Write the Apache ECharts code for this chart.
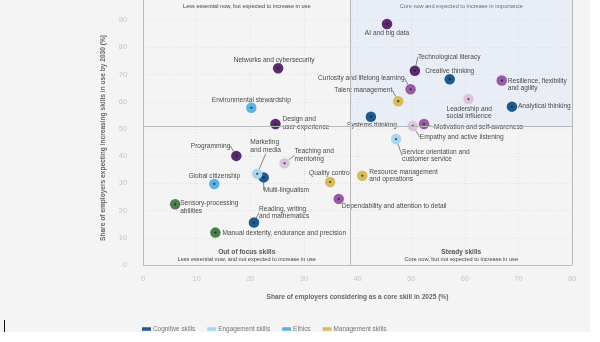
<!DOCTYPE html>
<html>
<head>
<meta charset="utf-8">
<script src="https://cdn.jsdelivr.net/npm/echarts@6/dist/echarts.min.js"></script>
<style>
  html, body { margin: 0; padding: 0; background: #ffffff; }
  #chart { width: 600px; height: 342px; }
</style>
</head>
<body>
<div id="chart"></div>
<script>
// Skills: share of employers rating each as core in 2025 vs. share expecting its use to grow by 2030
const skills = [
  'Creative thinking', 'Analytical thinking', 'Systems thinking', 'Multi-lingualism', 'Reading, writing and mathematics',
  'Service orientation and customer service', 'Marketing and media',
  'Environmental stewardship', 'Global citizenship',
  'Talent management', 'Resource management and operations', 'Quality control',
  'Sensory-processing abilities', 'Manual dexterity, endurance and precision',
  'Resilience, flexibility and agility', 'Curiosity and lifelong learning', 'Motivation and self-awareness', 'Dependability and attention to detail',
  'AI and big data', 'Networks and cybersecurity', 'Technological literacy', 'Programming', 'Design and user experience',
  'Leadership and social influence', 'Empathy and active listening', 'Teaching and mentoring'
];
const coreShare2025 = [
  57.2, 68.8, 42.5, 22.5, 20.7,
  47.2, 21.3,
  20.2, 13.3,
  47.6, 40.9, 34.9,
  6.0, 13.5,
  66.9, 49.9, 52.4, 36.5,
  45.5, 25.2, 50.7, 17.4, 24.7,
  60.7, 50.3, 26.4
];
const increasingUse2030 = [
  68.3, 58.2, 54.5, 32.2, 15.6,
  46.3, 33.5,
  57.8, 29.8,
  60.2, 32.8, 30.5,
  22.3, 11.9,
  67.8, 64.6, 51.8, 24.3,
  88.6, 72.3, 71.4, 40.1, 51.8,
  61.0, 51.1, 37.4
];
const skillGroup = [
  'Cognitive skills', 'Cognitive skills', 'Cognitive skills', 'Cognitive skills', 'Cognitive skills',
  'Engagement skills', 'Engagement skills',
  'Ethics', 'Ethics',
  'Management skills', 'Management skills', 'Management skills',
  'Physical abilities', 'Physical abilities',
  'Self-efficacy', 'Self-efficacy', 'Self-efficacy', 'Self-efficacy',
  'Technology skills', 'Technology skills', 'Technology skills', 'Technology skills', 'Technology skills',
  'Working with others', 'Working with others', 'Working with others'
];
const groups = ['Cognitive skills', 'Engagement skills', 'Ethics', 'Management skills',
  'Physical abilities', 'Self-efficacy', 'Technology skills', 'Working with others'];
const legendGroups = ['Cognitive skills', 'Engagement skills', 'Ethics', 'Management skills'];

// Quadrant split (average values on each axis)
const xSplit = 38.7;
const ySplit = 51.1;

// Axis ranges and ticks
const xTicks = [0, 10, 20, 30, 40, 50, 60, 70, 80];
const yTicks = [0, 10, 20, 30, 40, 50, 60, 70, 80, 90];
const yTop = 97.4;

const quadrantNotes = [
  { title: '', text: 'Less essential now, but expected to increase in use', side: 'left', top: true },
  { title: '', text: 'Core now and expected to increase in importance', side: 'right', top: true },
  { title: 'Out of focus skills', text: 'Less essential now, and not expected to increase in use', side: 'left', top: false },
  { title: 'Steady skills', text: 'Core now, but not expected to increase in use', side: 'right', top: false }
];

// ---- styling ----
const groupColors = {
  'Cognitive skills': '#1e5a8e',
  'Engagement skills': '#a9d6ef',
  'Ethics': '#5eb2e2',
  'Management skills': '#d6bb5c',
  'Physical abilities': '#4c7f4c',
  'Self-efficacy': '#9a5aa6',
  'Technology skills': '#5a2b6c',
  'Working with others': '#dcc4de'
};
const FONT = '"Liberation Sans", Arial, Helvetica, sans-serif';

// label placement: [text, dx, dy, align, leader line]
const labelPlacement = {
  'Networks and cybersecurity': ['Networks and cybersecurity', -4, -8, 'center', false],
  'Environmental stewardship': ['Environmental stewardship', 0, -8, 'center', false],
  'Design and user experience': ['Design and\nuser experience', 7, -1, 'left', false],
  'AI and big data': ['AI and big data', 0, 9, 'center', false],
  'Technological literacy': ['Technological literacy', 3, -14, 'left', true],
  'Creative thinking': ['Creative thinking', 0, -8, 'center', false],
  'Curiosity and lifelong learning': ['Curiosity and lifelong learning', -6, -11, 'right', true],
  'Talent management': ['Talent management', -6, -11, 'right', true],
  'Resilience, flexibility and agility': ['Resilience, flexibility\nand agility', 6, 4, 'left', false],
  'Leadership and social influence': ['Leadership and\nsocial influence', -22, 13.5, 'left', false],
  'Analytical thinking': ['Analytical thinking', 6, 0, 'left', false],
  'Systems thinking': ['Systems thinking', 1, 8.5, 'center', false],
  'Motivation and self-awareness': ['Motivation and self-awareness', 10, 3, 'left', true],
  'Empathy and active listening': ['Empathy and active listening', 7, 11, 'left', true],
  'Service orientation and customer service': ['Service orientation and\ncustomer service', 6, 16.5, 'left', true],
  'Resource management and operations': ['Resource management\nand operations', 7, 0, 'left', false],
  'Dependability and attention to detail': ['Dependability and attention to detail', 3, 7, 'left', false],
  'Programming': ['Programming', -6, -10, 'right', true],
  'Marketing and media': ['Marketing\nand media', -7, -27.5, 'left', true],
  'Teaching and mentoring': ['Teaching and\nmentoring', 10, -8, 'left', true],
  'Global citizenship': ['Global citizenship', 0, -7.5, 'center', false],
  'Quality control': ['Quality control', 0, -9, 'center', false],
  'Multi-lingualism': ['Multi-lingualism', 0, 13, 'left', true],
  'Sensory-processing abilities': ['Sensory-processing\nabilities', 5, 3, 'left', false],
  'Reading, writing and mathematics': ['Reading, writing\nand mathematics', 5, -10, 'left', true],
  'Manual dexterity, endurance and precision': ['Manual dexterity, endurance and precision', 7, 1, 'left', false]
};

const chart = echarts.init(document.getElementById('chart'), null, { renderer: 'canvas' });

const series = groups.map(function (g) {
  const idx = [];
  skillGroup.forEach(function (sg, i) { if (sg === g) idx.push(i); });
  return {
    type: 'scatter',
    name: g,
    z: 3,
    symbolSize: 10.5,
    itemStyle: { color: groupColors[g], opacity: 1 },
    data: idx.map(function (i) {
      const p = labelPlacement[skills[i]];
      return {
        name: skills[i],
        value: [coreShare2025[i], increasingUse2030[i]],
        labelLine: { show: p[4], lineStyle: { color: '#555', width: 0.7 } }
      };
    }),
    label: {
      show: true,
      formatter: function (prm) { return labelPlacement[prm.name][0]; },
      fontFamily: FONT,
      fontSize: 6.6,
      lineHeight: 7.5,
      color: '#4a4a4a'
    },
    labelLayout: function (prm) {
      const p = labelPlacement[skills[idx[prm.dataIndex]]];
      const cx = prm.rect.x + prm.rect.width / 2;
      const cy = prm.rect.y + prm.rect.height / 2;
      return { x: cx + p[1], y: cy + p[2], align: p[3], verticalAlign: 'middle' };
    }
  };
});

// dark centre marks on every point
series.push({
  type: 'scatter',
  name: 'centres',
  silent: true,
  z: 4,
  symbolSize: 2.2,
  itemStyle: { color: '#1d1d1d' },
  data: skills.map(function (s, i) { return [coreShare2025[i], increasingUse2030[i]]; })
});

// quadrant shading, split lines and right frame edge
series.push({
  type: 'scatter',
  name: 'quadrants',
  silent: true,
  data: [],
  markArea: {
    silent: true,
    itemStyle: { color: 'rgba(198,218,250,0.27)' },
    data: [[{ xAxis: xSplit, yAxis: ySplit }, { xAxis: xTicks[xTicks.length - 1], yAxis: yTop }]]
  },
  markLine: {
    silent: true,
    symbol: 'none',
    label: { show: false },
    lineStyle: { color: '#b8b8b8', width: 1, type: 'solid' },
    data: [{ xAxis: xSplit }, { yAxis: ySplit }, { xAxis: xTicks[xTicks.length - 1] }]
  }
});

chart.setOption({
  animation: false,
  backgroundColor: '#ffffff',
  textStyle: { fontFamily: FONT },
  grid: { left: 143, width: 429, top: 0, height: 265, show: false },
  xAxis: {
    type: 'value', min: xTicks[0], max: xTicks[xTicks.length - 1], interval: 10,
    name: 'Share of employers considering as a core skill in 2025 (%)',
    nameLocation: 'middle', nameGap: 29,
    nameTextStyle: { fontFamily: FONT, fontSize: 6.6, fontWeight: 'bold', color: '#666' },
    axisLine: { show: true, lineStyle: { color: '#bdbdbd', width: 1 } },
    axisTick: { show: false },
    axisLabel: { color: '#c4c4c4', fontSize: 7.4, margin: 10, fontFamily: FONT },
    splitLine: { show: true, lineStyle: { color: '#dcdcdc', type: [1, 2], width: 0.8 } }
  },
  yAxis: {
    type: 'value', min: yTicks[0], max: yTop, interval: 10,
    axisLine: { show: true, lineStyle: { color: '#bdbdbd', width: 1 } },
    axisTick: { show: false },
    axisLabel: {
      color: '#c4c4c4', fontSize: 7.4, margin: 16, fontFamily: FONT,
      formatter: function (v) { return yTicks.indexOf(v) >= 0 ? String(v) : ''; }
    },
    splitLine: { show: true, showMaxLine: false, lineStyle: { color: '#dcdcdc', type: [1, 2], width: 0.8 } }
  },
  legend: {
    data: legendGroups,
    left: 137, top: 321,
    icon: 'rect', itemWidth: 9, itemHeight: 3.5, itemGap: 12,
    textStyle: { fontFamily: FONT, fontSize: 6.4, color: '#777', padding: [0, 0, 0, -3] }
  },
  series: series
});

// annotation texts placed from axis coordinates
function px(v) { return chart.convertToPixel({ gridIndex: 0 }, v); }
const leftMid = (px([xTicks[0], 0])[0] + px([xSplit, 0])[0]) / 2;
const rightMid = (px([xSplit, 0])[0] + px([xTicks[xTicks.length - 1], 0])[0]) / 2;
const bottomY = px([0, yTicks[0]])[1];
const g = [
  { type: 'rect', z: -10, silent: true, shape: { x: 0, y: 0, width: 590, height: 332 }, style: { fill: '#f4f4f4' } },
  {
    type: 'text', silent: true, x: 103, y: 138, rotation: Math.PI / 2,
    style: { text: 'Share of employers expecting increasing skills in use by 2030 (%)', font: 'bold 6.6px ' + FONT, fill: '#666', textAlign: 'center', textVerticalAlign: 'middle' }
  },
  { type: 'line', silent: true, shape: { x1: 4.5, y1: 320, x2: 4.5, y2: 332 }, style: { stroke: '#111', lineWidth: 1 } }
];
quadrantNotes.forEach(function (q) {
  const cx = q.side === 'left' ? leftMid : rightMid;
  if (q.top) {
    g.push({ type: 'text', silent: true, x: cx, y: 6, style: { text: q.text, font: '5.6px ' + FONT, fill: '#444', textAlign: 'center', textVerticalAlign: 'middle' } });
  } else {
    g.push({ type: 'text', silent: true, x: cx, y: bottomY - 13, style: { text: q.title, font: 'bold 6.6px ' + FONT, fill: '#555', textAlign: 'center', textVerticalAlign: 'middle' } });
    g.push({ type: 'text', silent: true, x: cx, y: bottomY - 6, style: { text: q.text, font: '5.6px ' + FONT, fill: '#444', textAlign: 'center', textVerticalAlign: 'middle' } });
  }
});
chart.setOption({ graphic: g });
</script>
</body>
</html>
